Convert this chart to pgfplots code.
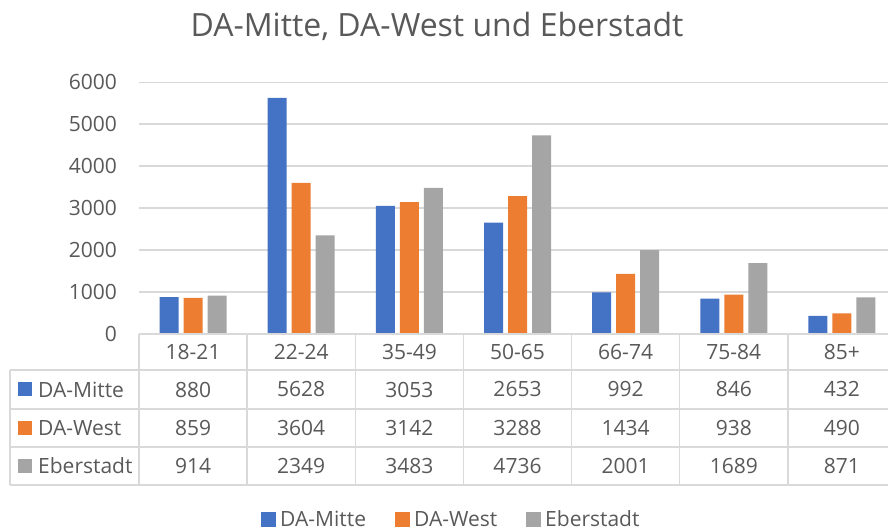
\documentclass[border=0pt]{standalone}
\usepackage{pgfplots}
\pgfplotsset{compat=1.18}
\usepackage{fontspec}
\setmainfont{Open Sans}
\definecolor{cblue}{HTML}{4472C4}
\definecolor{corange}{HTML}{ED7D31}
\definecolor{cgray}{HTML}{A5A5A5}
\definecolor{txt}{HTML}{595959}
\definecolor{gridc}{HTML}{D9D9D9}
\begin{document}
\begin{tikzpicture}[x=1pt,y=1pt]
\useasboundingbox (0,0) rectangle (888,532);
\begin{axis}[
  at={(139pt,198pt)}, anchor=south west,
  scale only axis, width=757pt, height=251.7pt,
  xmin=-0.5, xmax=6.5, ymin=0, ymax=6000,
  ybar, bar width=19pt,
  axis line style={draw=none},
  xtick=\empty,
  ytick={0,1000,...,6000},
  major tick length=0pt,
  ymajorgrids, grid style={color=gridc, line width=1.5pt},
  /pgf/number format/assume math mode=true,
  /pgf/number format/set thousands separator={},
  yticklabel style={font=\fontsize{21}{25}\selectfont, text=txt, anchor=east, inner sep=0pt, xshift=-22pt},
]
\addplot[fill=cblue, draw=none, bar shift=-24pt] coordinates {(0,880)(1,5628)(2,3053)(3,2653)(4,992)(5,846)(6,432)};
\addplot[fill=corange, draw=none, bar shift=0pt] coordinates {(0,859)(1,3604)(2,3142)(3,3288)(4,1434)(5,938)(6,490)};
\addplot[fill=cgray, draw=none, bar shift=24pt] coordinates {(0,914)(1,2349)(2,3483)(3,4736)(4,2001)(5,1689)(6,871)};
\end{axis}
% title
\node[anchor=base, font=\fontsize{32}{38}\selectfont, text=txt, inner sep=0pt] at (437,495) {DA-Mitte, DA-West und Eberstadt};
% data table grid
\begin{scope}[draw=gridc, line width=1.5pt]
\draw (139,198) -- (896,198);
\draw (10,162) -- (896,162);
\draw (10,123) -- (896,123);
\draw (10,85) -- (896,85);
\draw (10,47) -- (896,47);
\draw (10,162) -- (10,47);
\foreach \xx in {139,247.1,355.3,463.4,571.6,679.7,787.8} {\draw (\xx,198) -- (\xx,47);}
\end{scope}
\begin{scope}[every node/.style={font=\fontsize{21}{25}\selectfont, text=txt, inner sep=0pt}]
\foreach \xc/\lab in {193.1/18-21,301.2/22-24,409.4/35-49,517.5/50-65,625.6/66-74,733.8/75-84,841.9/85+} {\node at (\xc,180) {\lab};}
\foreach \xc/\a/\b/\c in {193.1/880/859/914,301.2/5628/3604/2349,409.4/3053/3142/3483,517.5/2653/3288/4736,625.6/992/1434/2001,733.8/846/938/1689,841.9/432/490/871} {
  \node at (\xc,142.5) {\a};
  \node at (\xc,104) {\b};
  \node at (\xc,66) {\c};
}
\fill[cblue] (18,135.5) rectangle (32,149.5);
\node[anchor=west] at (38,142.5) {DA-Mitte};
\fill[corange] (18,97) rectangle (32,111);
\node[anchor=west] at (38,104) {DA-West};
\fill[cgray] (18,59) rectangle (32,73);
\node[anchor=west] at (38,66) {Eberstadt};
% legend
\fill[cblue] (261,5) rectangle (276,20);
\node[anchor=base west] at (280,5) {DA-Mitte};
\fill[corange] (395,5) rectangle (410,20);
\node[anchor=base west] at (414,5) {DA-West};
\fill[cgray] (526,5) rectangle (541,20);
\node[anchor=base west] at (545,5) {Eberstadt};
\end{scope}
\end{tikzpicture}
\end{document}
